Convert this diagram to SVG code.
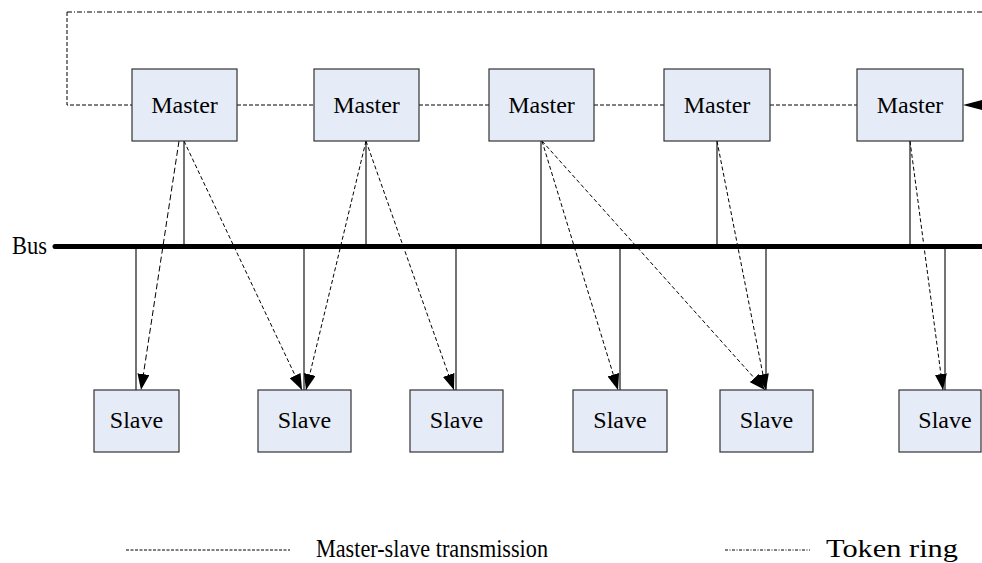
<svg xmlns="http://www.w3.org/2000/svg" width="982" height="563" viewBox="0 0 982 563">
<style>
.box{fill:#e6ecf7;stroke:#333;stroke-width:1.2}
.lbl{font-family:"Liberation Serif","Times New Roman",serif;font-size:24px;fill:#000;text-anchor:middle}
.sol{stroke:#000;stroke-width:1.1;fill:none}
.ms{stroke:#000;stroke-width:1;fill:none;stroke-dasharray:4,2.5}
.ms2{stroke:#000;stroke-width:1;fill:none;stroke-dasharray:6,3}
.ring{stroke:#000;stroke-width:1;fill:none;stroke-dasharray:4,2}
.ringdd{stroke:#000;stroke-width:1;fill:none;stroke-dasharray:5,2,1,2}
.legend{font-family:"Liberation Serif","Times New Roman",serif;font-size:26px;fill:#000}
</style>
<defs>
<marker id="ah" markerUnits="userSpaceOnUse" markerWidth="16" markerHeight="12" viewBox="0 0 16 12" refX="16" refY="6" orient="auto">
<path d="M0,0 L16,6 L0,12 Z" fill="#000"/>
</marker>
</defs>
<g id="connectors">
<path class="ringdd" d="M67,12 H982"/>
<path class="ring" d="M67,12 V105 H132"/>
<path class="ring" d="M237,105 H314"/>
<path class="ring" d="M419,105 H489"/>
<path class="ring" d="M594,105 H664"/>
<path class="ring" d="M770,105 H857"/>
<path d="M963,105 L982,100 L982,110 Z" fill="#000"/>
<line x1="55" y1="246.5" x2="982" y2="246.5" stroke="#000" stroke-width="5" stroke-linecap="round"/>
<path class="sol" d="M184,141 V244"/>
<path class="sol" d="M366,141 V244"/>
<path class="sol" d="M541,141 V244"/>
<path class="sol" d="M717,141 V248 H719"/>
<path class="sol" d="M910,141 V244"/>
<path class="sol" d="M136,249 V390"/>
<path class="sol" d="M304,249 V390"/>
<path class="sol" d="M456,249 V390"/>
<path class="sol" d="M620,249 V390"/>
<path class="sol" d="M766,249 V390"/>
<path class="sol" d="M945,249 V390"/>
<path class="ms2" d="M179,141 L141,390" marker-end="url(#ah)"/>
<path class="ms" d="M184,141 L302,390" marker-end="url(#ah)"/>
<path class="ms" d="M366,141 L306,390" marker-end="url(#ah)"/>
<path class="ms" d="M366,141 L454,390" marker-end="url(#ah)"/>
<path class="ms" d="M542,141 L618,390" marker-end="url(#ah)"/>
<path class="ms" d="M542,141 L765,390" marker-end="url(#ah)"/>
<path class="ms" d="M717,141 L766,390" marker-end="url(#ah)"/>
<path class="ms" d="M910,141 L943,390" marker-end="url(#ah)"/>
</g>
<g id="master1"><rect class="box" x="132" y="69" width="105" height="72"/><text class="lbl" x="184.5" y="113">Master</text></g>
<g id="master2"><rect class="box" x="314" y="69" width="105" height="72"/><text class="lbl" x="366.5" y="113">Master</text></g>
<g id="master3"><rect class="box" x="489" y="69" width="105" height="72"/><text class="lbl" x="541.5" y="113">Master</text></g>
<g id="master4"><rect class="box" x="664" y="69" width="106" height="72"/><text class="lbl" x="717" y="113">Master</text></g>
<g id="master5"><rect class="box" x="857" y="69" width="106" height="72"/><text class="lbl" x="910" y="113">Master</text></g>
<g id="slave1"><rect class="box" x="94" y="390" width="85" height="62"/><text class="lbl" x="136.5" y="428">Slave</text></g>
<g id="slave2"><rect class="box" x="258" y="390" width="93" height="62"/><text class="lbl" x="304.5" y="428">Slave</text></g>
<g id="slave3"><rect class="box" x="410" y="390" width="93" height="62"/><text class="lbl" x="456.5" y="428">Slave</text></g>
<g id="slave4"><rect class="box" x="573" y="390" width="94" height="62"/><text class="lbl" x="620" y="428">Slave</text></g>
<g id="slave5"><rect class="box" x="720" y="390" width="93" height="62"/><text class="lbl" x="766.5" y="428">Slave</text></g>
<g id="slave6"><rect class="box" x="899" y="390" width="82" height="62"/><text class="lbl" x="945" y="428">Slave</text></g>
<g id="bus-label"><text x="12" y="254" font-family="'Liberation Serif','Times New Roman',serif" font-size="25" textLength="35" lengthAdjust="spacingAndGlyphs">Bus</text></g>
<g id="legend">
<line class="ms" x1="126" y1="550" x2="290" y2="550" style="stroke-dasharray:3,1.5"/>
<text class="legend" x="316" y="557" textLength="232" lengthAdjust="spacingAndGlyphs">Master-slave transmission</text>
<line class="ringdd" x1="725" y1="550" x2="810" y2="550" style="stroke-dasharray:3,1.5,1,1.5"/>
<text class="legend" x="826" y="557" textLength="132" lengthAdjust="spacingAndGlyphs">Token ring</text>
</g>
</svg>
